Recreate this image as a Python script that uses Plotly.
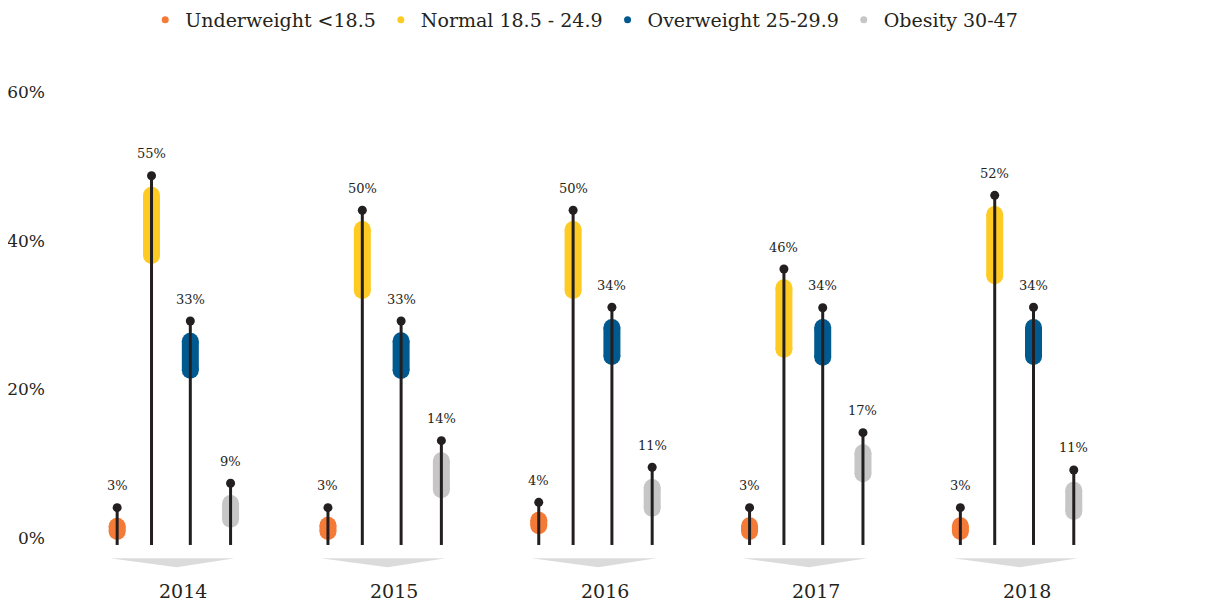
import plotly.graph_objects as go

# ---------------- data ----------------
years = ["2014", "2015", "2016", "2017", "2018"]
series_names = ["Underweight <18.5", "Normal 18.5 - 24.9", "Overweight 25-29.9", "Obesity 30-47"]
series_colors = ["#f47a37", "#fdcb24", "#005a8f", "#c6c6c6"]

# labelled percentages
underweight_pct = [3, 3, 4, 3, 3]
normal_pct = [55, 50, 50, 46, 52]
overweight_pct = [33, 33, 34, 34, 34]
obesity_pct = [9, 14, 11, 17, 11]

# height of each stem (dot)
underweight_top = [4.08, 4.08, 4.80, 4.08, 4.08]
normal_top = [48.74, 44.09, 44.09, 36.19, 46.10]
overweight_top = [29.19, 29.19, 31.04, 30.98, 31.04]
obesity_top = [7.36, 13.09, 9.51, 14.17, 9.15]

# coloured band (upper / lower edge)
underweight_hi = [2.73, 2.87, 3.54, 2.78, 2.78]
underweight_lo = [-0.27, -0.27, 0.50, -0.27, -0.27]
normal_hi = [47.26, 42.65, 42.65, 34.80, 44.66]
normal_lo = [36.86, 32.15, 32.15, 24.26, 34.13]
overweight_hi = [27.62, 27.67, 29.46, 29.46, 29.46]
overweight_lo = [21.43, 21.39, 23.27, 23.18, 23.27]
obesity_hi = [5.78, 11.53, 7.94, 12.61, 7.57]
obesity_lo = [1.39, 5.34, 2.87, 7.49, 2.42]

y_ticks = [0, 20, 40, 60]
y_tick_labels = ["0%", "20%", "40%", "60%"]

pcts = [underweight_pct, normal_pct, overweight_pct, obesity_pct]
tops = [underweight_top, normal_top, overweight_top, obesity_top]
his = [underweight_hi, normal_hi, overweight_hi, obesity_hi]
los = [underweight_lo, normal_lo, overweight_lo, obesity_lo]

# ---------------- styling ----------------
W, H = 1208, 595          # page body adds an 8px margin
ML, MR, MT, MB = 42, 16, 52, 28
Y_RANGE = [-4.98, 64.31]
X_RANGE = [-0.5806, 4.8748]
OFFSETS = [-0.262, -0.099, 0.085, 0.276]   # position of each series within a year group
STEM_BASE = -0.94
BAND_W = 17
TEXT = "#24241a"
INK = "#231f20"
FONT = "DejaVu Serif"

px_per_unit = (H - MT - MB) / (Y_RANGE[1] - Y_RANGE[0])
cap = (BAND_W / 2) / px_per_unit

fig = go.Figure()

# chevrons under each year
for i, _ in enumerate(years):
    fig.add_trace(go.Scatter(
        x=[i - 0.296, i + 0.296, i + 0.02, i - 0.296],
        y=[-2.73, -2.73, -3.94, -2.73],
        mode="lines", fill="toself", fillcolor="#dadbda",
        line=dict(width=0, color="#dadbda"), hoverinfo="skip", showlegend=False))

# coloured bands
for s in range(4):
    xs, ys = [], []
    for i in range(len(years)):
        xv = i + OFFSETS[s]
        xs += [xv, xv, None]
        ys += [his[s][i] - cap, los[s][i] + cap, None]
    fig.add_trace(go.Scatter(
        x=xs, y=ys, mode="lines+markers",
        line=dict(color=series_colors[s], width=BAND_W),
        marker=dict(color=series_colors[s], size=BAND_W, line=dict(width=0)),
        hoverinfo="skip", showlegend=False))

# stems
xs, ys = [], []
for s in range(4):
    for i in range(len(years)):
        xv = i + OFFSETS[s]
        xs += [xv, xv, None]
        ys += [STEM_BASE, tops[s][i], None]
fig.add_trace(go.Scatter(x=xs, y=ys, mode="lines",
                         line=dict(color=INK, width=3), hoverinfo="skip", showlegend=False))

# dots
dx, dy = [], []
for s in range(4):
    for i in range(len(years)):
        dx.append(i + OFFSETS[s])
        dy.append(tops[s][i])
fig.add_trace(go.Scatter(x=dx, y=dy, mode="markers",
                         marker=dict(color=INK, size=9), hoverinfo="skip", showlegend=False))

# legend entries
for s in range(4):
    fig.add_trace(go.Scatter(x=[None], y=[None], mode="markers", name=series_names[s],
                             legendgroup=f"g{s}",
                             marker=dict(color=series_colors[s], size=7)))

annotations = []
for s in range(4):
    for i in range(len(years)):
        annotations.append(dict(
            x=i + OFFSETS[s], y=tops[s][i], text=f"{pcts[s][i]}%", showarrow=False,
            yshift=22, yanchor="middle", xanchor="center",
            font=dict(family=FONT, size=13, color=TEXT)))
for i, yr in enumerate(years):
    annotations.append(dict(
        x=i, y=0, yref="paper", text=yr, showarrow=False, xshift=11, yshift=-16,
        yanchor="middle", xanchor="center",
        font=dict(family=FONT, size=19, color=TEXT)))

fig.update_layout(
    width=W, height=H,
    margin=dict(l=ML, r=MR, t=MT, b=MB, autoexpand=False),
    paper_bgcolor="white", plot_bgcolor="white",
    font=dict(family=FONT, color=TEXT),
    showlegend=True,
    legend=dict(orientation="h", xref="container", yref="paper",
                x=0.477, xanchor="center", y=1.1146, yanchor="top",
                tracegroupgap=12,
                font=dict(family=FONT, size=19, color=TEXT),
                bgcolor="rgba(0,0,0,0)"),
    xaxis=dict(range=X_RANGE, showgrid=False, zeroline=False, showline=False,
               showticklabels=False, ticks=""),
    yaxis=dict(range=Y_RANGE, tickmode="array", tickvals=y_ticks, ticktext=y_tick_labels,
               showgrid=False, zeroline=False, showline=False, ticks="",
               ticklabelstandoff=4,
               tickfont=dict(family=FONT, size=17, color=TEXT)),
    annotations=annotations,
)

fig.write_html("out.html")
